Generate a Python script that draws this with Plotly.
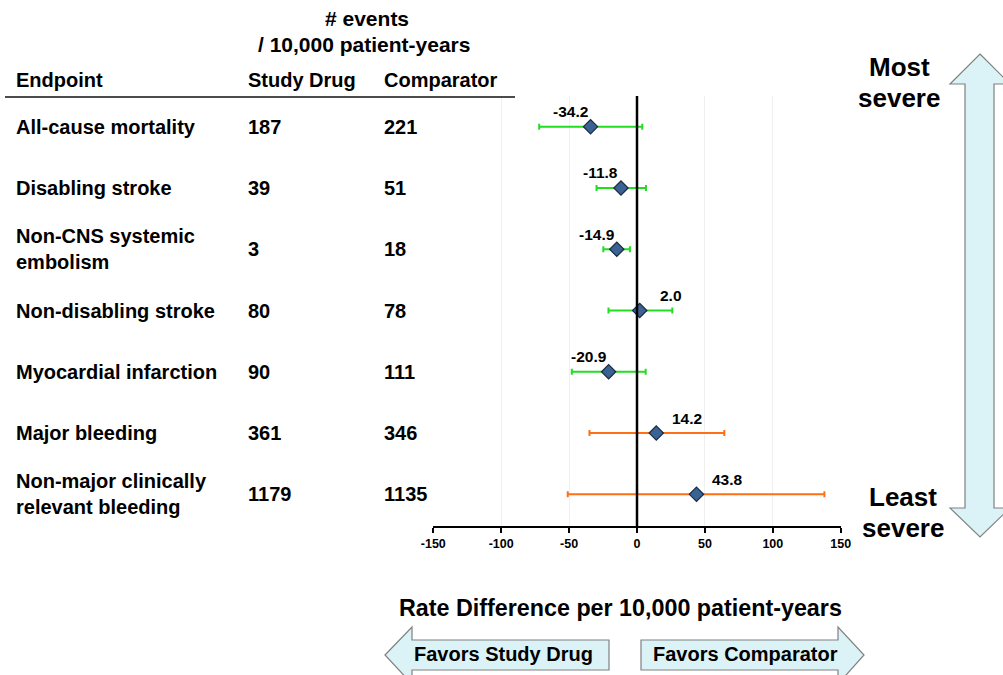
import plotly.graph_objects as go

# Endpoints ordered from most to least severe
endpoints = [
    "All-cause mortality",
    "Disabling stroke",
    "Non-CNS systemic<br>embolism",
    "Non-disabling stroke",
    "Myocardial infarction",
    "Major bleeding",
    "Non-major clinically<br>relevant bleeding",
]
study_drug_rate = [187, 39, 3, 80, 90, 361, 1179]
comparator_rate = [221, 51, 18, 78, 111, 346, 1135]

# Rate difference per 10,000 patient-years with 95% CI
rate_diff = [-34.2, -11.8, -14.9, 2.0, -20.9, 14.2, 43.8]
ci_low = [-72.0, -29.8, -24.8, -21.0, -48.0, -35.0, -51.0]
ci_high = [3.9, 6.6, -5.2, 26.0, 6.4, 64.3, 138.0]
endpoint_group = ["efficacy"] * 5 + ["bleeding"] * 2

x_ticks = [-150, -100, -50, 0, 50, 100, 150]

W, H = 1003, 675
FONT = "Arial, Liberation Sans, sans-serif"
GROUP_COLORS = {"efficacy": "#22DD22", "bleeding": "#FF6F14"}
ARROW_FILL = "#DBF3F7"
ARROW_LINE = "#808080"


def px(x):
    return x / W


def py(y):
    return 1 - y / H


def path(points):
    return "M " + " L ".join(f"{px(x):.5f},{py(y):.5f}" for x, y in points) + " Z"


rows = list(range(len(endpoints)))
fig = go.Figure()

for group, color in GROUP_COLORS.items():
    idx = [i for i in rows if endpoint_group[i] == group]
    fig.add_trace(go.Scatter(
        x=[rate_diff[i] for i in idx],
        y=[rows[i] for i in idx],
        mode="markers",
        marker=dict(symbol="diamond", size=11, color="#3A6393",
                    line=dict(color="#1A2A40", width=1.2)),
        error_x=dict(type="data", symmetric=False,
                     array=[ci_high[i] - rate_diff[i] for i in idx],
                     arrayminus=[rate_diff[i] - ci_low[i] for i in idx],
                     color=color, thickness=2, width=3),
        showlegend=False,
        hoverinfo="skip",
    ))

annotations = []
bold = lambda size: dict(family=FONT, size=size, color="black", weight="bold")

# Point estimate labels
for i, v in enumerate(rate_diff):
    annotations.append(dict(
        x=v, y=rows[i], xref="x", yref="y", text=f"{v:.1f}", showarrow=False,
        xshift=(-20 if v < 0 else 31), yshift=15, font=bold(15.5),
    ))

# Table columns
for i in rows:
    annotations.append(dict(x=px(14), y=rows[i], xref="paper", yref="y",
                            text=endpoints[i], showarrow=False, xanchor="left",
                            align="left", font=bold(20)))
    annotations.append(dict(x=px(246), y=rows[i], xref="paper", yref="y",
                            text=str(study_drug_rate[i]), showarrow=False,
                            xanchor="left", font=bold(20)))
    annotations.append(dict(x=px(382), y=rows[i], xref="paper", yref="y",
                            text=str(comparator_rate[i]), showarrow=False,
                            xanchor="left", font=bold(20)))

# Header
header = [
    ("# events", 367, 19, "center", 21),
    ("/ 10,000 patient-years", 364, 44, "center", 21),
    ("Endpoint", 14, 80, "left", 20),
    ("Study Drug", 246, 80, "left", 20),
    ("Comparator", 382, 80, "left", 20),
    ("Most", 899, 67, "center", 26),
    ("severe", 899, 98, "center", 26),
    ("Least", 903, 497, "center", 26),
    ("severe", 903, 528, "center", 26),
    ("Rate Difference per 10,000 patient-years", 620, 608, "center", 23.3),
    ("Favors Study Drug", 503, 654, "center", 20),
    ("Favors Comparator", 745, 654, "center", 20),
]
for text, x, y, anchor, size in header:
    annotations.append(dict(x=px(x), y=py(y), xref="paper", yref="paper",
                            text=text, showarrow=False, xanchor=anchor,
                            yanchor="middle", font=bold(size)))

shapes = [
    # rule under table header
    dict(type="line", xref="paper", yref="paper", x0=px(5), x1=px(515),
         y0=py(97), y1=py(97), line=dict(color="#111111", width=1.5)),
    # no-difference reference line
    dict(type="line", xref="x", yref="y domain", x0=0, x1=0, y0=0, y1=1,
         line=dict(color="black", width=2.5), layer="above"),
    # severity double arrow
    dict(type="path", xref="paper", yref="paper", fillcolor=ARROW_FILL,
         line=dict(color=ARROW_LINE, width=1.2),
         path=path([(980, 54), (1010, 84), (994, 84), (994, 508), (1010, 508),
                    (980, 537), (950, 508), (965, 508), (965, 84), (950, 84)])),
    # favors study drug arrow
    dict(type="path", xref="paper", yref="paper", fillcolor=ARROW_FILL,
         line=dict(color=ARROW_LINE, width=1.2),
         path=path([(385, 655), (412, 627), (412, 640), (609, 640), (609, 670),
                    (412, 670), (412, 684)])),
    # favors comparator arrow
    dict(type="path", xref="paper", yref="paper", fillcolor=ARROW_FILL,
         line=dict(color=ARROW_LINE, width=1.2),
         path=path([(641, 640), (838, 640), (838, 627), (864, 655), (838, 684),
                    (838, 670), (641, 670)])),
]

fig.update_layout(
    width=W, height=H,
    margin=dict(l=0, r=0, t=0, b=0, pad=0, autoexpand=False),
    paper_bgcolor="white", plot_bgcolor="white",
    annotations=annotations, shapes=shapes,
    xaxis=dict(domain=[433.3 / W, 840.7 / W], range=[-150, 150],
               tickvals=x_ticks, ticktext=[str(t) for t in x_ticks],
               showgrid=True, gridcolor="#F0F0F0", gridwidth=1,
               zeroline=False, showline=True, linecolor="black", linewidth=2,
               ticks="outside", ticklen=5, tickwidth=2, tickcolor="black",
               tickfont=bold(12.5), fixedrange=True, automargin=False),
    yaxis=dict(domain=[1 - 526 / H, 1 - 96 / H], range=[6.517, -0.501],
               visible=False, showgrid=False, zeroline=False, fixedrange=True,
               automargin=False),
)

fig.write_html("out.html")
